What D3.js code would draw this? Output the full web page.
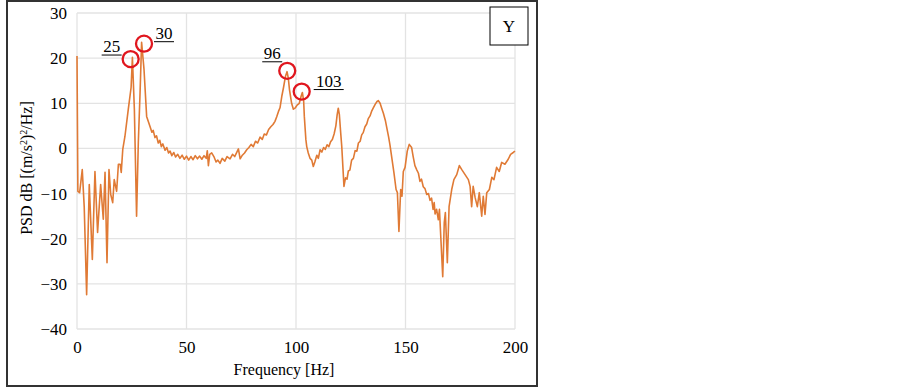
<!DOCTYPE html>
<html>
<head>
<meta charset="utf-8">
<script src="https://cdn.jsdelivr.net/npm/d3@7"></script>
<style>
  body { margin: 0; background: #fff; }
  text { font-family: "Liberation Serif", "Times New Roman", serif; fill: #000; }
</style>
</head>
<body>
<div id="chart"></div>
<script>
// spectrum (frequency in Hz, PSD in dB)
var freq = [0, 0.4, 1.2, 2.4, 3.3, 4.4, 5.6, 7.0, 8.2, 9.4, 10.8, 12.0, 12.8, 13.7, 14.6, 15.4, 16.3, 17.0, 18.1, 18.9,
  19.7, 20.2, 20.9, 21.9, 23.4, 24.7, 25.3, 26.2, 27.2, 28.0, 28.8, 29.5, 30.6, 31.8,
  33.3, 34.2, 34.8, 35.6, 36.3, 37.1, 37.8, 38.5, 39.2, 40.2, 41.0, 41.8, 42.5, 43.3, 44.2, 45.0, 46.0, 47.0, 48.0, 49.0,
  50.0, 51.0, 52.0, 53.0, 54.0, 55.0, 56.0, 57.0, 58.0, 59.0, 59.5, 60.0, 60.6, 61.5, 62.5, 63.5, 64.3, 65.3, 66.3, 67.5,
  68.5, 69.9, 71.0, 72.0, 73.0, 73.7, 74.5, 75.5, 76.5, 77.5, 78.5, 79.5, 80.5, 81.5, 82.5, 83.6, 84.6, 85.5, 86.5, 87.5,
  88.5, 89.5, 90.4, 91.2, 92.0, 92.7, 93.5, 94.3, 95.2, 95.9, 96.5, 97.0, 98.0, 98.8, 99.7, 100.5, 101.5, 102.3, 102.9, 103.5,
  103.8, 104.5, 104.9, 105.6, 106.4, 107.2, 107.9, 108.6, 109.5, 110.2, 111.0, 111.8, 112.6, 113.4, 114.2, 115.0, 115.8, 116.6, 117.4, 118.2,
  118.8, 119.3, 119.8, 120.4, 120.9, 121.9, 122.6, 123.3, 123.9, 124.6, 125.4, 126.2, 127.0, 127.8, 128.5, 129.3, 130.0, 130.7, 131.5, 132.3,
  133.0, 133.8, 134.5, 135.3, 136.2, 137.0, 137.6, 138.4, 139.2, 139.9, 140.8, 141.6, 142.3, 142.9, 144.7, 145.7, 146.3, 147.0, 147.8, 148.4,
  149.0, 149.8, 150.8, 151.7, 152.8, 153.5, 154.3, 155.2, 155.9, 156.6, 157.3, 158.1, 158.9, 159.7, 160.5, 161.2, 161.9, 162.6, 163.1, 163.5,
  164.2, 165.0, 165.5, 166.1, 167.0, 167.7, 168.2, 169.1, 169.9, 171.1, 172.1, 173.4, 174.6, 175.7, 177.2, 178.7, 179.5, 180.2, 180.9, 181.8,
  182.8, 183.7, 184.8, 185.5, 186.3, 187.1, 188.3, 189.4, 190.4, 191.6, 192.8, 193.9, 195.4, 196.9, 198.0, 199.2, 200.0]
var psd = [20.5, -9.5, -9.8, -4.7, -13, -32.4, -8, -24.6, -5.1, -18.6, -8, -15.7, -5.3, -25.3, -4.7, -10.2, -12, -6.9, -9.5, -3.5,
  -3.5, -5.3, -0.2, 2.7, 8.6, 13.5, 20.2, 8.6, -15, 1.3, 12.4, 23.5, 17.5, 7.1,
  4.9, 3.6, 4.0, 2.4, 2.8, 1.2, 1.8, 0.4, 1.0, -0.4, 0.2, -1.0, -0.6, -1.6, -0.9, -1.9, -1.3, -2.2, -1.5, -2.4,
  -1.7, -2.6, -1.8, -2.5, -1.6, -2.3, -1.7, -2.4, -1.6, -2.2, -0.5, -3.8, -1.3, -1.0, -1.8, -3.0, -2.6, -3.3, -2.2, -2.8,
  -1.8, -2.3, -1.3, -1.8, -0.8, -0.1, -2.3, -1.5, -1.0, -0.3, 0.2, 0.9, 0.4, 1.6, 1.2, 2.5, 2.0, 3.2, 3.0, 4.2,
  4.8, 5.3, 6.0, 7.0, 8.2, 9.0, 11.5, 13.5, 16.0, 17.0, 15.5, 13.1, 10.0, 8.7, 9.0, 9.6, 10.0, 11.5, 12.4, 10.5,
  7.1, 2.0, 0.4, -1.0, -2.2, -2.6, -4.0, -3.0, -1.5, -2.2, -0.3, -0.8, 0.2, -0.2, 0.8, 0.4, 1.5, 2.0, 3.2, 5.0,
  7.5, 8.9, 7.5, 3.5, 0.4, -8.4, -6.5, -6.8, -5.0, -4.8, -2.6, -2.2, -0.5, -0.6, 1.2, 1.6, 3.0, 3.5, 4.8, 5.4,
  6.6, 7.2, 8.2, 9.0, 9.8, 10.4, 10.6, 10.0, 8.8, 7.8, 6.2, 4.2, 2.5, 0.8, -5.3, -9.1, -9.8, -18.4, -9.1, -10.6,
  -5.1, -4.2, -0.6, 0.9, 0.2, -1.8, -3.8, -4.8, -5.5, -7.3, -6.8, -8.5, -8.9, -10.2, -10.0, -11.5, -11.0, -13.5, -12.0, -14.5,
  -13.5, -15.8, -13.5, -19.5, -28.4, -16.4, -14.2, -25.3, -12.9, -9.1, -6.9, -5.8, -3.8, -4.7, -5.8, -6.9, -8.4, -12.9, -8.4, -10.9,
  -12.9, -9.8, -15.0, -10.6, -14.6, -9.8, -9.1, -6.4, -6.9, -4.2, -5.1, -3.1, -3.5, -2.4, -1.3, -0.9, -0.6]

var xTicks = [0, 50, 100, 150, 200]
var yTicks = [-40, -30, -20, -10, 0, 10, 20, 30]

// marked peaks
var peakLabels = ["25", "30", "96", "103"]
var peakFreq = [24.5, 30.6, 96.0, 102.6]
var peakPsd = [19.8, 23.2, 17.2, 12.6]

// where each label's underline sits, relative to its circle (px)
var labelLayout = [
  {x1: -29, x2: -9, dy: -4},
  {x1: 10, x2: 30, dy: -2},
  {x1: -25, x2: -5, dy: -9},
  {x1: 12, x2: 42, dy: -2}
]

var width = 903,
    height = 387

var svg = d3.select("#chart")
  .append("svg")
  .attr("width", width)
  .attr("height", height)

// outer frame
svg.append("rect")
  .attr("x", 7)
  .attr("y", 1)
  .attr("width", 530)
  .attr("height", 385)
  .attr("fill", "none")
  .attr("stroke", "#333")
  .attr("stroke-width", 2)

var x = d3.scaleLinear()
  .domain([0, 200])
  .range([77, 515])

var y = d3.scaleLinear()
  .domain([-40, 30])
  .range([329, 13])

// grid
svg.append("g")
  .selectAll("line.vgrid")
  .data(xTicks)
  .enter().append("line")
  .attr("x1", d => x(d))
  .attr("x2", d => x(d))
  .attr("y1", y(30))
  .attr("y2", y(-40))
  .attr("stroke", "#e3e3e3")
  .attr("stroke-width", 1.3)

svg.append("g")
  .selectAll("line.hgrid")
  .data(yTicks)
  .enter().append("line")
  .attr("x1", x(0))
  .attr("x2", x(200))
  .attr("y1", d => y(d))
  .attr("y2", d => y(d))
  .attr("stroke", "#e3e3e3")
  .attr("stroke-width", 1.3)

// axes, labels only
var xAxis = svg.append("g")
  .attr("transform", "translate(0," + y(-40) + ")")
  .call(d3.axisBottom(x).tickValues(xTicks).tickSize(0).tickPadding(12))
xAxis.select(".domain").remove()
xAxis.selectAll("text")
  .style("font-size", "17px")
  .style("font-family", "'Liberation Serif', serif")

var yAxis = svg.append("g")
  .attr("transform", "translate(" + x(0) + ",0)")
  .call(d3.axisLeft(y).tickValues(yTicks).tickSize(0).tickPadding(10)
    .tickFormat(d => d < 0 ? "\u2212" + Math.abs(d) : d))
yAxis.select(".domain").remove()
yAxis.selectAll("text")
  .style("font-size", "17px")
  .style("font-family", "'Liberation Serif', serif")

// axis titles
svg.append("text")
  .attr("x", 284)
  .attr("y", 375)
  .attr("text-anchor", "middle")
  .style("font-size", "16px")
  .text("Frequency [Hz]")

var ytitle = svg.append("text")
  .attr("transform", "translate(32,168) rotate(-90)")
  .attr("text-anchor", "middle")
  .style("font-size", "16px")
ytitle.append("tspan").text("PSD dB [(m/s")
ytitle.append("tspan").attr("baseline-shift", "super").style("font-size", "10px").text("2")
ytitle.append("tspan").text(")")
ytitle.append("tspan").attr("baseline-shift", "super").style("font-size", "10px").text("2")
ytitle.append("tspan").text("/Hz]")

// the spectrum
var pts = freq.map((f, k) => [f, psd[k]])

svg.append("path")
  .datum(pts)
  .attr("fill", "none")
  .attr("stroke", "#e07a35")
  .attr("stroke-width", 1.6)
  .attr("stroke-linejoin", "round")
  .attr("d", d3.line().x(d => x(d[0])).y(d => y(d[1])))

// peak circles and labels
var peaks = peakLabels.map((t, k) => ({t: t, f: peakFreq[k], v: peakPsd[k], lay: labelLayout[k]}))

svg.append("g")
  .selectAll("circle")
  .data(peaks)
  .enter().append("circle")
  .attr("cx", d => x(d.f))
  .attr("cy", d => y(d.v))
  .attr("r", 8)
  .attr("fill", "none")
  .attr("stroke", "#e0161e")
  .attr("stroke-width", 2.3)

var lab = svg.append("g")
  .selectAll("g")
  .data(peaks)
  .enter().append("g")
  .attr("transform", d => "translate(" + x(d.f) + "," + (y(d.v) + d.lay.dy) + ")")

lab.append("text")
  .attr("x", d => (d.lay.x1 + d.lay.x2) / 2)
  .attr("y", -3)
  .attr("text-anchor", "middle")
  .style("font-size", "17px")
  .text(d => d.t)

lab.append("line")
  .attr("x1", d => d.lay.x1)
  .attr("x2", d => d.lay.x2)
  .attr("y1", 0)
  .attr("y2", 0)
  .attr("stroke", "#000")
  .attr("stroke-width", 1)

// series tag
svg.append("rect")
  .attr("x", 490)
  .attr("y", 7)
  .attr("width", 38)
  .attr("height", 38)
  .attr("fill", "#fff")
  .attr("stroke", "#000")
  .attr("stroke-width", 1)

svg.append("text")
  .attr("x", 509)
  .attr("y", 32)
  .attr("text-anchor", "middle")
  .style("font-size", "17px")
  .text("Y")
</script>
</body>
</html>
